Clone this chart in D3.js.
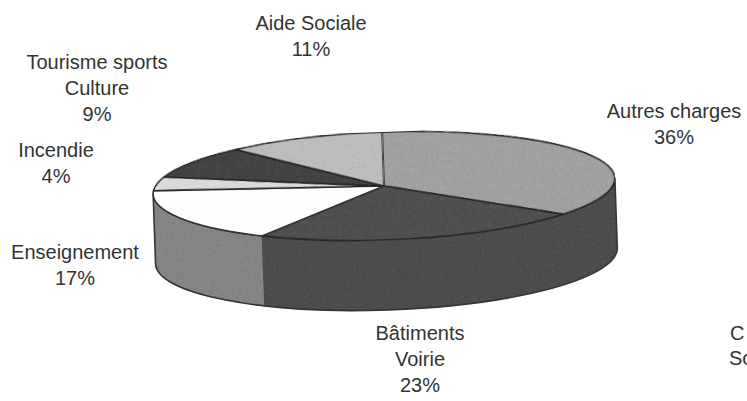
<!DOCTYPE html>
<html>
<head>
<meta charset="utf-8">
<script src="https://cdn.jsdelivr.net/npm/d3@7"></script>
<style>
  html, body { margin: 0; padding: 0; background: #fff; }
  svg { display: block; }
  text { font-family: "Liberation Sans", Arial, sans-serif; font-size: 20px; fill: #333; }
</style>
</head>
<body>
<svg id="chart" width="747" height="401"></svg>
<script>
// budget shares, clockwise from 12 o'clock
const categories = ["Autres charges", "Bâtiments Voirie", "Enseignement", "Incendie", "Tourisme sports Culture", "Aide Sociale"];
const labelLines = [["Autres charges"], ["Bâtiments", "Voirie"], ["Enseignement"], ["Incendie"], ["Tourisme sports", "Culture"], ["Aide Sociale"]];
const shares = [36, 23, 17, 4, 9, 11];

// look
const topColors  = ["#adadad", "#5c5c5c", "#fdfdfd", "#e6e6e6", "#505050", "#c9c9c9"];
const sideColors = ["#5b5b5b", "#5b5b5b", "#939393", "#bdbdbd", "#404040", "#9a9a9a"];
const labelAt = [[674, 118], [420, 340], [75, 259], [56, 157], [97, 69], [311, 30]];

const svg = d3.select("#chart");
const cx = 384, cy = 186, rx = 231, ry = 54, tilt = -2;
const depth = d3.scaleLinear().domain([0, 1]).range([0, 70]);

const defs = svg.append("defs");
const f = defs.append("filter").attr("id", "grain")
  .attr("color-interpolation-filters", "sRGB")
  .attr("x", 0).attr("y", 0).attr("width", 1).attr("height", 1);
f.append("feTurbulence").attr("type", "fractalNoise").attr("baseFrequency", 0.9).attr("numOctaves", 2).attr("seed", 3).attr("result", "n");
f.append("feColorMatrix").attr("in", "n").attr("type", "saturate").attr("values", 0).attr("result", "g");
f.append("feComposite").attr("in", "SourceGraphic").attr("in2", "g").attr("operator", "arithmetic")
  .attr("k1", 0).attr("k2", 1).attr("k3", 0.25).attr("k4", -0.125).attr("result", "c");
f.append("feComposite").attr("in", "c").attr("in2", "SourceAlpha").attr("operator", "in");

const pie = d3.pie().sort(null).startAngle(0).endAngle(2 * Math.PI);
const arcs = pie(shares);

function pt(a, dy) {
  return [rx * Math.sin(a), -ry * Math.cos(a) + (dy || 0)];
}

function topPath(d) {
  const p0 = pt(d.startAngle), p1 = pt(d.endAngle);
  const large = d.endAngle - d.startAngle > Math.PI ? 1 : 0;
  return `M0,0L${p0}A${rx},${ry} 0 ${large} 1 ${p1}Z`;
}

function wall(s0, s1) {
  const h = depth(1);
  return `M${pt(s0)}A${rx},${ry} 0 0 1 ${pt(s1)}L${pt(s1, h)}A${rx},${ry} 0 0 0 ${pt(s0, h)}Z`;
}

function sidePath(d) {
  const s0 = Math.max(d.startAngle, Math.PI / 2), s1 = Math.min(d.endAngle, 3 * Math.PI / 2);
  return s0 < s1 ? wall(s0, s1) : null;
}

const g = svg.append("g").attr("transform", `translate(${cx},${cy}) rotate(${tilt})`);

const frontWall = wall(Math.PI / 2, 3 * Math.PI / 2);

// base under the wall pieces so their shared edges leave no seam
g.append("path")
  .attr("d", frontWall)
  .attr("fill", sideColors[1])
  .attr("filter", "url(#grain)");

g.selectAll("path.side")
  .data(arcs.filter(d => sidePath(d)))
  .join("path")
  .attr("class", "side")
  .attr("d", sidePath)
  .attr("fill", d => sideColors[d.index])
  .attr("filter", "url(#grain)");

// outline of the whole front wall
g.append("path")
  .attr("d", frontWall)
  .attr("fill", "none")
  .attr("stroke", "#353535")
  .attr("stroke-width", 1.6)
  .attr("stroke-linejoin", "round");

g.selectAll("path.top")
  .data(arcs)
  .join("path")
  .attr("class", "top")
  .attr("d", topPath)
  .attr("fill", d => topColors[d.index])
  .attr("filter", d => d.index === 2 ? null : "url(#grain)")
  .attr("stroke", "#353535")
  .attr("stroke-width", 1.6)
  .attr("stroke-linejoin", "round");

const labels = svg.append("g").selectAll("text")
  .data(arcs)
  .join("text")
  .attr("text-anchor", "middle")
  .attr("transform", d => `translate(${labelAt[d.index]})`);

labels.selectAll("tspan")
  .data(d => labelLines[d.index].concat([d.data + "%"]))
  .join("tspan")
  .attr("x", 0)
  .attr("y", (t, i) => i * 26)
  .text(t => t);

// cut-off label of a neighbouring chart at the right edge
svg.append("text").attr("x", 730).attr("y", 340).text("C");
svg.append("text").attr("x", 729).attr("y", 365).text("So");
</script>
</body>
</html>
